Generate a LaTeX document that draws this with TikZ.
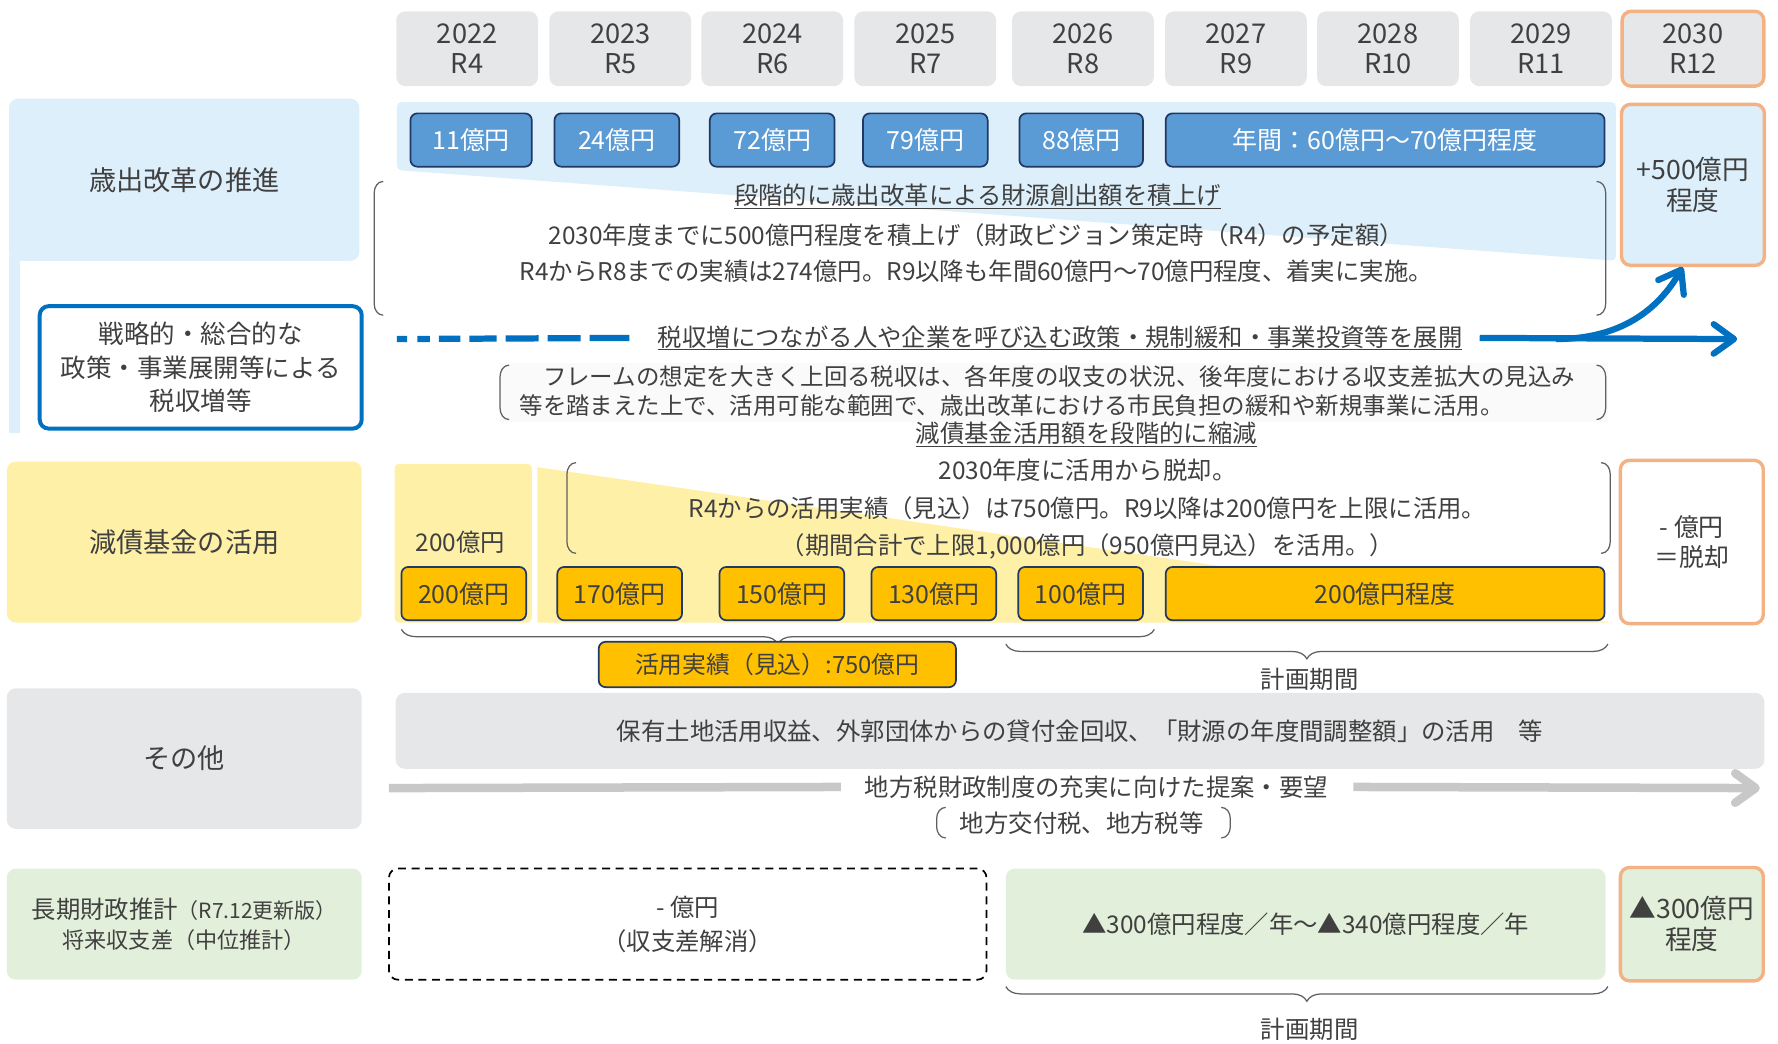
\documentclass[tikz,border=0pt]{standalone}
\usepackage{fontspec}
\setmainfont{Noto Sans CJK JP}
\usetikzlibrary{arrows.meta,decorations.pathreplacing,positioning}

\definecolor{txtgray}{HTML}{404040}
\definecolor{yeargray}{HTML}{E6E7E8}
\definecolor{paleblue}{HTML}{DDEFFA}
\definecolor{midblue}{HTML}{5B9BD5}
\definecolor{navy}{HTML}{1F3864}
\definecolor{strongblue}{HTML}{0070C0}
\definecolor{paleorange}{HTML}{F4B183}
\definecolor{paleyellow}{HTML}{FFF0A8}
\definecolor{gold}{HTML}{FFC000}
\definecolor{palegreen}{HTML}{E2EFDA}
\definecolor{linegray}{HTML}{C8C8C8}
\definecolor{bracketgray}{HTML}{606060}

\tikzset{
  body/.style={text=txtgray, font=\fontsize{21.5}{30}\selectfont, align=center, inner sep=2pt},
  yearbox/.style={body, font=\fontsize{24}{27}\selectfont, fill=yeargray, rounded corners=8pt, minimum width=125pt, minimum height=66pt, inner sep=0pt},
  labelbox/.style={body, font=\fontsize{24}{30}\selectfont, rounded corners=8pt, minimum width=313pt, inner sep=0pt},
  bluebox/.style={draw=navy, line width=1.5pt, fill=midblue, text=white, font=\fontsize{22}{26}\selectfont, rounded corners=6pt, minimum height=47pt, inner sep=0pt},
  goldbox/.style={bluebox, fill=gold, text=txtgray},
  targetbox/.style={body, font=\fontsize{23.5}{27}\selectfont, draw=paleorange, line width=3pt, rounded corners=8pt, minimum width=126pt, inner sep=0pt},
  paren/.style={draw=bracketgray, line width=1.1pt},
  brace/.style={draw=bracketgray, line width=1.1pt, decorate, decoration={brace, mirror, amplitude=13pt}},
  bluearrow/.style={draw=strongblue, line width=5.5pt},
  grayarrow/.style={draw=linegray, line width=7.5pt},
  barb/.style={-{Straight Barb[length=18pt, width=26pt, round]}},
}

\newcommand{\leftbrk}[3]{\draw[paren] (#1+8,#2) to[out=180,in=90] (#1,#2+10) -- (#1,#3-10) to[out=-90,in=180] (#1+8,#3);}
\newcommand{\rightbrk}[3]{\draw[paren] (#1-8,#2) to[out=0,in=90] (#1,#2+10) -- (#1,#3-10) to[out=-90,in=0] (#1-8,#3);}

\begin{document}
\begin{tikzpicture}[x=1pt, y=-1pt]
  \useasboundingbox (0,0) rectangle (1568,920);

  % Years
  \foreach \cx/\yr/\rn in {412/2022/4, 547/2023/5, 681/2024/6, 816/2025/7, 955/2026/8, 1090/2027/9, 1224/2028/10, 1359/2029/11}
    \node[yearbox] (yr\yr) at (\cx,43) {\yr\\R\rn};
  \node[yearbox, draw=paleorange, line width=3pt] (yr2030) at (1493,43) {2030\\R12};

  % Row labels
  \fill[paleblue] (8,225) rectangle (18,382);
  \node[labelbox, fill=paleblue, minimum width=309pt, minimum height=143pt] (lbcut) at (162.5,158.5) {歳出改革の推進};
  \node[body, draw=strongblue, line width=3.5pt, fill=white, rounded corners=8pt, minimum width=284pt, minimum height=108pt, font=\fontsize{22.5}{29.5}\selectfont] (lbtax) at (177,324) {戦略的・総合的な\\政策・事業展開等による\\税収増等};
  \node[labelbox, fill=paleyellow, minimum height=142pt] (lbfund) at (162.5,478) {減債基金の活用};
  \node[labelbox, fill=yeargray, minimum height=124pt] (lbother) at (162.5,669) {その他};
  \node[labelbox, fill=palegreen, minimum height=98pt, font=\fontsize{19.5}{26}\selectfont] (lbgap) at (162.5,815) {{\fontsize{21.5}{26}\selectfont 長期財政推計}{\fontsize{18.5}{20}\selectfont（R7.12更新版）}\\将来収支差（中位推計）};

  % Spending reform
  \fill[paleblue, rounded corners=4pt] (350,90) -- (1425,90) -- (1425,230) -- (350,150) -- cycle;
  \foreach \cx/\w/\amt in {415.5/107/11, 544/110/24, 681/110/72, 816/110/79, 953.5/109/88}
    \node[bluebox, minimum width=\w pt] (cut\amt) at (\cx,123.5) {\amt 億円};
  \node[bluebox, minimum width=387pt] (cutplan) at (1221.5,123.5) {年間：60億円～70億円程度};
  \node[targetbox, fill=paleblue, minimum height=142pt] (goalcut) at (1493,163) {+500億円\\程度};

  \leftbrk{330}{160}{278}
  \rightbrk{1416}{160}{278}
  \node[body] (cuthead) at (862,173) {\underline{段階的に歳出改革による財源創出額を積上げ}};
  \node[body, font=\fontsize{21.5}{32}\selectfont] (cutnote) at (861,223) {2030年度までに500億円程度を積上げ（財政ビジョン策定時（R4）の予定額）\\R4からR8までの実績は274億円。R9以降も年間60億円～70億円程度、着実に実施。};

  % Tax revenue
  \coordinate (taxstart) at (350,299);
  \coordinate (taxend) at (1532,299);
  \coordinate (curvestart) at (1372,299);
  \node[body] (taxhead) at (935,298) {\underline{税収増につながる人や企業を呼び込む政策・規制緩和・事業投資等を展開}};
  \draw[bluearrow, dash pattern=on 9pt off 9pt on 11pt off 8pt on 19pt off 8pt on 24pt off 8pt on 29pt off 8pt on 29pt off 8pt on 35pt off 40pt] (taxstart) -- ([xshift=-22pt]taxhead.west);
  \draw[bluearrow, barb] ([xshift=13pt]taxhead.east) -- (taxend);
  \draw[bluearrow, barb] (curvestart) to[out=0, in=-120] ([xshift=-9pt]goalcut.south);

  \fill[black!2] (441,320) rectangle (1418,372);
  \leftbrk{441}{322}{370}
  \rightbrk{1416}{322}{370}
  \node[body, align=left, anchor=west, font=\fontsize{20.7}{26}\selectfont] (framenote) at (456,345) {　フレームの想定を大きく上回る税収は、各年度の収支の状況、後年度における収支差拡大の見込み\\等を踏まえた上で、活用可能な範囲で、歳出改革における市民負担の緩和や新規事業に活用。};

  % Debt reduction fund
  \node[body] (fundhead) at (958,383) {\underline{減債基金活用額を段階的に縮減}};
  \fill[paleyellow, rounded corners=4pt] (348,409) rectangle (469,549);
  \fill[paleyellow] (474,412) -- (1420,549) -- (474,549) -- cycle;
  \leftbrk{500}{408}{488}
  \rightbrk{1420}{408}{488}
  \node[body, font=\fontsize{21.5}{33}\selectfont] (fundnote) at (959,449) {2030年度に活用から脱却。\\R4からの活用実績（見込）は750億円。R9以降は200億円を上限に活用。\\（期間合計で上限1,000億円（950億円見込）を活用。）};
  \node[body] (fundfirst) at (406,478) {200億円};
  \foreach \cx/\amt in {409/200, 546.5/170, 689.5/150, 823.5/130, 953/100}
    \node[goldbox, minimum width=110pt] (fund\amt) at (\cx,523.5) {\amt 億円};
  \node[goldbox, minimum width=387pt] (fundplan) at (1221.5,523.5) {200億円程度};
  \node[targetbox, fill=white, minimum height=144pt, font=\fontsize{22}{27}\selectfont] (goalfund) at (1492,478) {- 億円\\＝脱却};

  \draw[brace] (354,555) -- (1018,555);
  \node[goldbox, minimum width=315pt, minimum height=40pt, font=\fontsize{21}{26}\selectfont] (fundactual) at (685.5,586) {活用実績（見込）:750億円};
  \draw[brace] (887,568) -- (1418,568);
  \node[body] (planfund) at (1155,599) {計画期間};

  % Others
  \node[body, fill=yeargray, rounded corners=8pt, minimum width=1207pt, minimum height=67pt] (othermeasures) at (952.5,644.5) {保有土地活用収益、外郭団体からの貸付金回収、「財源の年度間調整額」の活用　等};
  \coordinate (propstart) at (343,695);
  \coordinate (propend) at (1552,695);
  \node[body] (proposal) at (967,694) {地方税財政制度の充実に向けた提案・要望};
  \draw[grayarrow] (propstart) -- ([xshift=-19pt]proposal.west);
  \draw[grayarrow, barb] ([xshift=20pt]proposal.east) -- (propend);
  \leftbrk{826}{712}{739}
  \rightbrk{1085}{712}{739}
  \node[body] (localtax) at (954,726) {地方交付税、地方税等};

  % Long-term estimate
  \node[body, draw=black, line width=1.5pt, dash pattern=on 7pt off 5pt, rounded corners=8pt, minimum width=527pt, minimum height=98pt] (nogap) at (606.5,815) {- 億円\\（収支差解消）};
  \node[body, fill=palegreen, rounded corners=8pt, minimum width=529pt, minimum height=98pt] (gapplan) at (1151.5,815) {▲300億円程度／年～▲340億円程度／年};
  \node[targetbox, fill=palegreen, minimum height=100pt] (goalgap) at (1492,815) {▲300億円\\程度};
  \draw[brace] (887,870) -- (1418,870);
  \node[body] (plangap) at (1155,908) {計画期間};
\end{tikzpicture}
\end{document}
